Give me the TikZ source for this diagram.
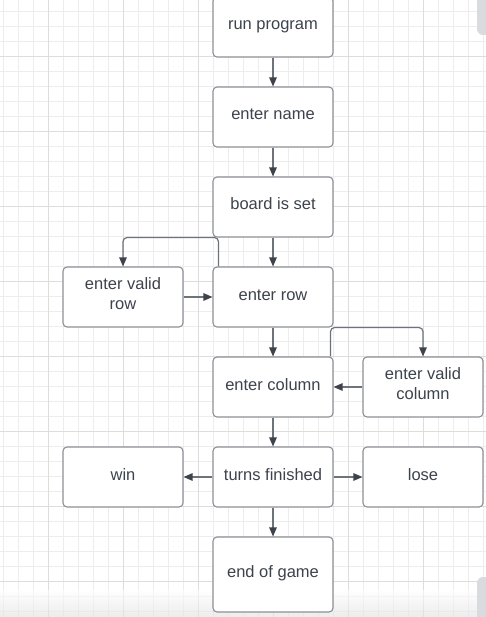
\documentclass[tikz,border=0pt]{standalone}
\usepackage{fontspec}
\setmainfont{Liberation Sans}
\usepackage{tikz}
\usetikzlibrary{arrows.meta,calc,positioning}
\definecolor{tekst}{HTML}{3D434C}
\definecolor{kant}{HTML}{8C8F96}
\definecolor{linje}{HTML}{6E727A}
\definecolor{spids}{HTML}{3E434B}
\definecolor{gitter}{HTML}{EDEDED}
\definecolor{gitterstor}{HTML}{DDDDDD}
\definecolor{rulle}{HTML}{DADBDE}
\tikzset{
    >={Triangle[length=9pt,width=7.5pt,color=spids]},
    boks/.style={
           rectangle, rounded corners=4,
           draw=kant, line width=1.1pt, fill=white,
           minimum width=120, minimum height=60,
           text=tekst, align=center,
           inner sep=0pt,
           execute at begin node={\rule{0pt}{12pt}},
           execute at end node={\rule[-6pt]{0pt}{6pt}},
           text centered},
    pil/.style={
           ->,
           draw=linje, line width=1.2pt},
    lille/.style={draw=gitter, line width=0.9pt},
    stor/.style={draw=gitterstor, line width=0.9pt}
}
\begin{document}
\begin{tikzpicture}[x=1pt,y=-1pt]
          \fontsize{16.5pt}{20pt}\selectfont
          \useasboundingbox (0,0) rectangle (486,617);
          \fill[white] (0,0) rectangle (486,617);
          % grid
          \foreach \x in {3,18,...,483} \draw[lille] (\x,0) -- (\x,617);
          \foreach \y in {11,26,...,611} \draw[lille] (0,\y) -- (486,\y);
          \foreach \x in {48,123,...,423} \draw[stor] (\x,0) -- (\x,617);
          \foreach \y in {56,131,...,581} \draw[stor] (0,\y) -- (486,\y);
          \shade[top color=white, bottom color=black!12, opacity=0.6] (0,590) rectangle (486,617);
          \fill[rulle, rounded corners=6] (477,-10) rectangle (496,35);
          \fill[rulle, rounded corners=6] (477,577) rectangle (496,630);
          % boxes
          \node[boks](run) at (273,27) {run program};
          \node[boks](name) at (273,117) {enter name};
          \node[boks](board) at (273,207) {board is set};
          \node[boks](row) at (273,297) {enter row};
          \node[boks](validrow) at (123,297) {enter valid\\row};
          \node[boks](col) at (273,387) {enter column};
          \node[boks](validcol) at (423,387) {enter valid\\column};
          \node[boks](turns) at (273,477) {turns finished};
          \node[boks](win) at (123,477) {win};
          \node[boks](lose) at (423,477) {lose};
          \node[boks, minimum height=75](endgame) at (273,574.5) {end of game};
          % arrows
          \draw[pil] (run) -- (name);
          \draw[pil] (name) -- (board);
          \draw[pil] (board) -- (row);
          \draw[pil, rounded corners=4] ([xshift=6]row.north west) -- ([xshift=6]board.south west) -| (validrow.north);
          \draw[pil] (validrow) -- (row);
          \draw[pil] (row) -- (col);
          \draw[pil, rounded corners=4] ([xshift=-3]col.north east) -- ([xshift=-3]row.south east) -| (validcol.north);
          \draw[pil] (validcol) -- (col);
          \draw[pil] (col) -- (turns);
          \draw[pil] (turns) -- (win);
          \draw[pil] (turns) -- (lose);
          \draw[pil] (turns) -- (endgame);
\end{tikzpicture}
\end{document}
